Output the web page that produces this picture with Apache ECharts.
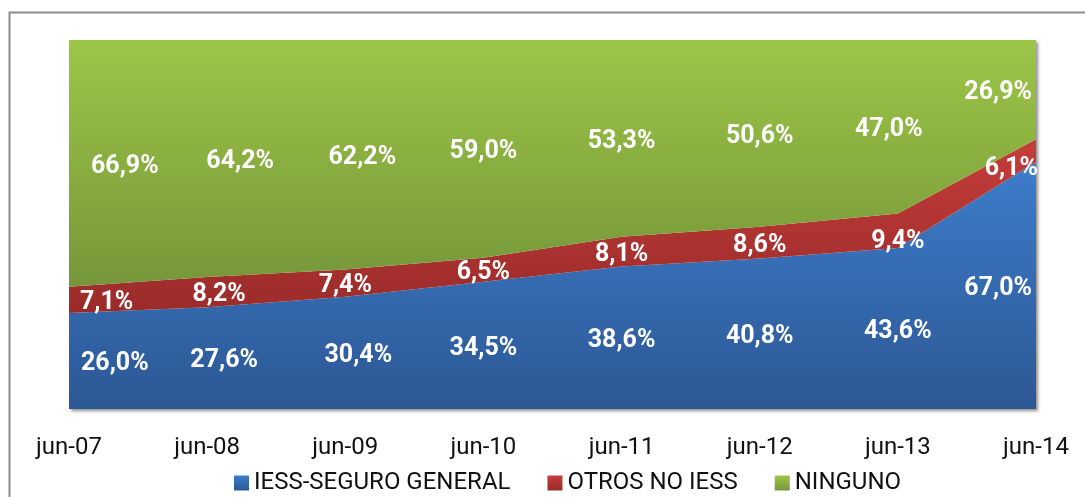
<!DOCTYPE html>
<html>
<head>
<meta charset="utf-8">
<style>
  html, body { margin: 0; padding: 0; background: #fff; }
  #chart { width: 1085px; height: 497px; }
</style>
<script src="https://cdn.jsdelivr.net/npm/echarts@6/dist/echarts.min.js"></script>
</head>
<body>
<div id="chart"></div>
<script>
var categories = ['jun-07', 'jun-08', 'jun-09', 'jun-10', 'jun-11', 'jun-12', 'jun-13', 'jun-14'];
var iess = [26.0, 27.6, 30.4, 34.5, 38.6, 40.8, 43.6, 67.0];
var otros = [7.1, 8.2, 7.4, 6.5, 8.1, 8.6, 9.4, 6.1];
var ninguno = [66.9, 64.2, 62.2, 59.0, 53.3, 50.6, 47.0, 26.9];
var names = ['IESS-SEGURO GENERAL', 'OTROS NO IESS', 'NINGUNO'];

var chart = echarts.init(document.getElementById('chart'));

function grad(top, bottom) {
    return new echarts.graphic.LinearGradient(0, 0, 0, 1, [
        { offset: 0, color: top },
        { offset: 1, color: bottom }
    ]);
}

var fills = [
    ['#3d7dcb', '#2c5794'],
    ['#c53d3b', '#9a2b29'],
    ['#9dc647', '#76963a']
];

var seriesData = [iess, otros, ninguno];

// area series
var series = seriesData.map(function (vals, k) {
    return {
        name: names[k],
        type: 'line',
        stack: 'total',
        symbol: 'none',
        lineStyle: { width: 0 },
        itemStyle: { color: grad(fills[k][0], fills[k][1]) },
        areaStyle: { color: grad(fills[k][0], fills[k][1]), opacity: 1 },
        data: vals
    };
});

// label nudges (px) so they sit like excel's
var nudge = [
    [[12, 3], [17, 3], [13, 3], [0, 3], [0, 3], [0, 3], [0, 3], [-4, 3]],
    [[11, 3], [12, 3], [0, 3], [0, 3], [0, 3], [0, 3], [0, 11], [2, 18]],
    [[22, 3], [33, 3], [17, 3], [0, 3], [0, 3], [0, 3], [-9, 3], [-4, 3]]
];
seriesData.forEach(function (vals, k) {
    var pts = vals.map(function (v, i) {
        var below = 0;
        for (var j = 0; j < k; j++) below += seriesData[j][i];
        var item = { value: [i, below + v / 2], raw: v, label: { offset: nudge[k][i] } };
        if (i === 0) item.label.align = 'left';
        if (i === vals.length - 1) item.label.align = 'right';
        return item;
    });
    series.push({
        type: 'scatter',
        symbolSize: 1,
        itemStyle: { color: 'rgba(0,0,0,0)', opacity: 1 },
        silent: true,
        z: 5,
        label: {
            show: true,
            position: 'inside',
            color: '#ffffff',
            textBorderWidth: 0,
            fontFamily: 'Roboto',
            fontWeight: 'bold',
            fontSize: 25,
            formatter: function (p) {
                return p.data.raw.toFixed(1).replace('.', ',') + '%';
            }
        },
        data: pts
    });
});

var option = {
    animation: false,
    graphic: [{
        type: 'rect',
        left: 7,
        top: 10,
        z: -10,
        shape: { width: 1120, height: 520 },
        style: { fill: 'none', stroke: '#8c8c8c', lineWidth: 2 }
    }],
    grid: {
        left: 69,
        right: 49,
        top: 40,
        bottom: 88,
        show: true,
        borderWidth: 0,
        backgroundColor: '#fff',
        shadowColor: 'rgba(0,0,0,0.45)',
        shadowBlur: 3,
        shadowOffsetX: 2,
        shadowOffsetY: 2
    },
    legend: {
        data: names,
        left: 229,
        top: 466,
        icon: 'rect',
        itemWidth: 15,
        itemHeight: 15,
        itemGap: 37,
        textStyle: { fontFamily: 'Roboto', fontSize: 24, color: '#111' }
    },
    xAxis: {
        type: 'category',
        boundaryGap: false,
        data: categories,
        axisLine: { show: false },
        axisTick: { show: false },
        axisLabel: { margin: 27, fontFamily: 'Roboto', fontSize: 24, color: '#111' }
    },
    yAxis: {
        type: 'value',
        min: 0,
        max: 100,
        show: false
    },
    series: series
};

chart.setOption(option);
</script>
</body>
</html>
